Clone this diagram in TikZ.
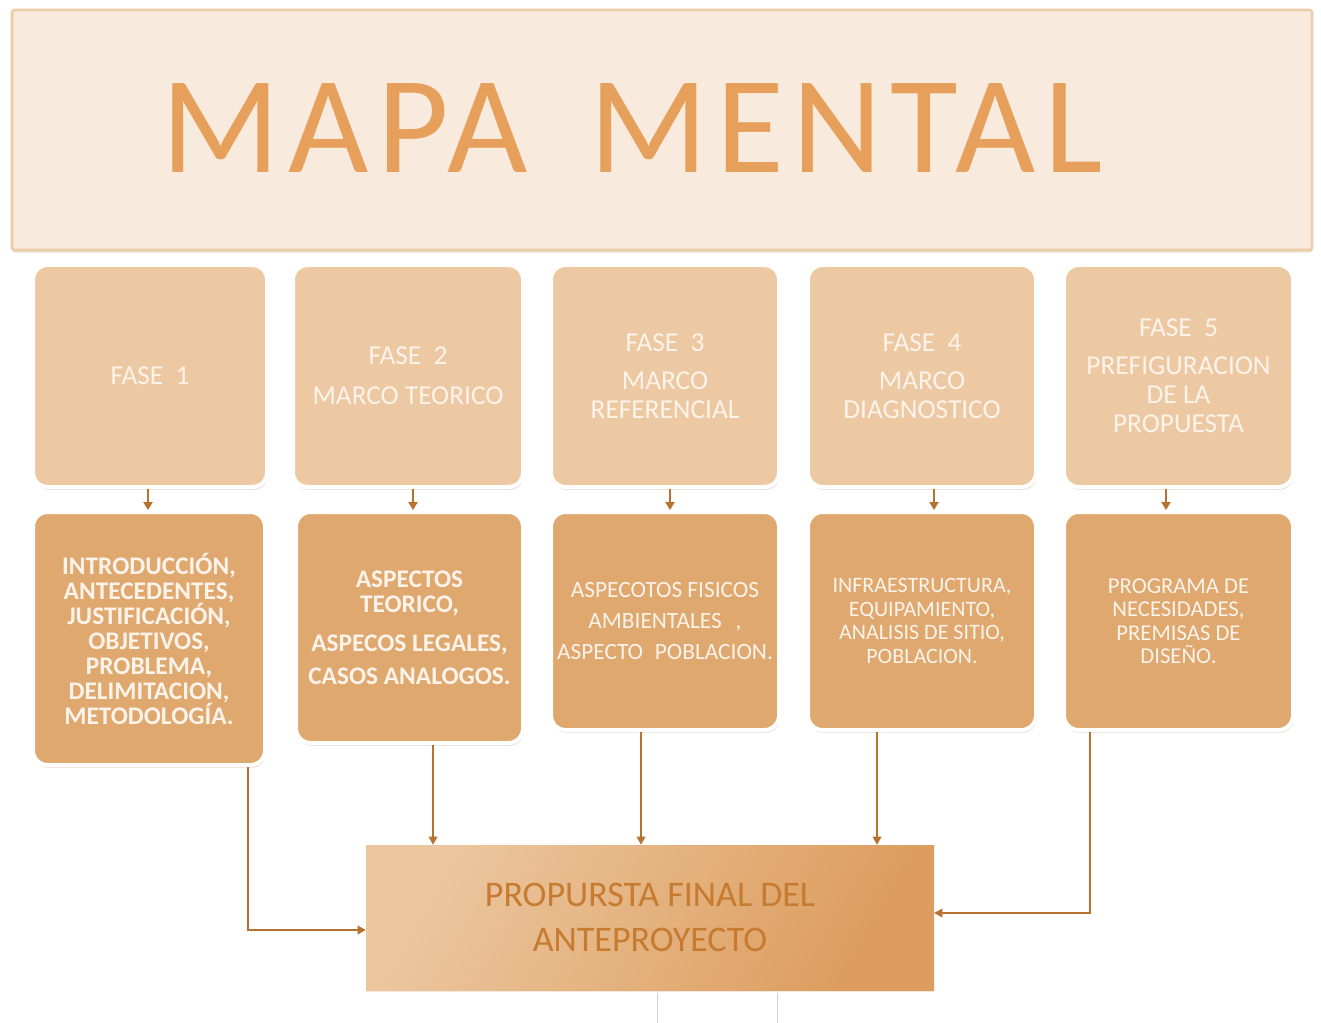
\documentclass[tikz,border=0pt]{standalone}
\usepackage{fontspec}
\setmainfont{Carlito}
\usetikzlibrary{arrows.meta,shadows,calc}
\definecolor{titlefill}{HTML}{F8EADC}
\definecolor{titledraw}{HTML}{ECCDA8}
\definecolor{titletext}{HTML}{E6A05C}
\definecolor{topc}{HTML}{ECC9A2}
\definecolor{botc}{HTML}{DFA86E}
\definecolor{boxtxt}{HTML}{FDF3EA}
\definecolor{shadowc}{HTML}{EFE3D6}
\definecolor{finA}{HTML}{ECC69F}
\definecolor{finB}{HTML}{DC9D5E}
\definecolor{fintxt}{HTML}{C67B30}
\definecolor{connc}{HTML}{B7722F}
\tikzset{
  titlebox/.style={rectangle, rounded corners=2pt, fill=titlefill, draw=titledraw, line width=2pt,
    drop shadow={shadow xshift=0.5pt, shadow yshift=-2pt, fill=shadowc, opacity=1}},
  phasebox/.style={rectangle, rounded corners=11pt, draw=white, line width=3pt, text=boxtxt,
    align=center, inner sep=0pt,
    drop shadow={shadow xshift=0.8pt, shadow yshift=-2.2pt, fill=shadowc, opacity=1}},
  topbox/.style={phasebox, fill=topc, font=\fontsize{20.5}{21.75}\selectfont},
  botbox/.style={phasebox, fill=botc},
  finbox/.style={rectangle, inner sep=0pt, left color=finA, right color=finB, shading angle=60,
    text=fintxt, align=center, font=\fontsize{27}{33.75}\selectfont,
    drop shadow={shadow xshift=0pt, shadow yshift=-1.5pt, fill=shadowc, opacity=0.8}},
  sarrow/.style={draw=connc, line width=1pt, -{Triangle[width=7pt,length=6pt]}},
  conn/.style={draw=connc, line width=0.9pt, -{Triangle[width=6.5pt,length=6pt]}},
}
\begin{document}
\begin{tikzpicture}[x=0.75pt,y=-0.75pt]
\useasboundingbox (0,0) rectangle (1321,1023);
\fill[white] (0,0) rectangle (1321,1023);

% title
\node[titlebox, minimum width=1300*0.75, minimum height=240*0.75] (tb) at (662,130) {};
\node[anchor=base, text=titletext, inner sep=0pt,
  font=\fontsize{104}{110}\selectfont\addfontfeature{LetterSpace=6}] (title) at (632,173) {MAPA\hspace{0.45em}MENTAL};

% top row
\node[topbox, minimum width=234*0.75, minimum height=222*0.75] (t1) at (150,376) {FASE\hspace{0.45em}1};
\node[topbox, minimum width=230*0.75, minimum height=222*0.75] (t2) at (408,376) {FASE\hspace{0.45em}2\\[8pt]MARCO TEORICO};
\node[topbox, minimum width=228*0.75, minimum height=222*0.75] (t3) at (665,376) {FASE\hspace{0.45em}3\\[7pt]MARCO\\REFERENCIAL};
\node[topbox, minimum width=228*0.75, minimum height=222*0.75] (t4) at (922,376) {FASE\hspace{0.45em}4\\[7pt]MARCO\\DIAGNOSTICO};
\node[topbox, minimum width=229*0.75, minimum height=222*0.75] (t5) at (1178.5,376) {FASE\hspace{0.45em}5\\[7pt]PREFIGURACION\\DE LA\\PROPUESTA};

% bottom row
\node[botbox, minimum width=232*0.75, minimum height=253*0.75, font=\bfseries\fontsize{19}{18.75}\selectfont] (b1) at (149,638.5)
  {INTRODUCCIÓN,\\ANTECEDENTES,\\JUSTIFICACIÓN,\\OBJETIVOS,\\PROBLEMA,\\DELIMITACION,\\METODOLOGÍA.};
\node[botbox, minimum width=227*0.75, minimum height=231*0.75, font=\bfseries\fontsize{19}{18.75}\selectfont] (b2) at (409.5,627.5)
  {ASPECTOS\\TEORICO,\\[10.5pt]ASPECOS LEGALES,\\[6pt]CASOS ANALOGOS.};
\node[botbox, minimum width=228*0.75, minimum height=218*0.75, font=\fontsize{17.5}{23.25}\selectfont] (b3) at (665,621)
  {ASPECOTOS FISICOS\\AMBIENTALES\hspace{0.6em},\\ASPECTO\hspace{0.5em}POBLACION.};
\node[botbox, minimum width=228*0.75, minimum height=218*0.75, font=\fontsize{16.5}{17.6}\selectfont] (b4) at (922,621)
  {INFRAESTRUCTURA,\\EQUIPAMIENTO,\\ANALISIS DE SITIO,\\POBLACION.};
\node[botbox, minimum width=229*0.75, minimum height=218*0.75, font=\fontsize{17}{17.6}\selectfont] (b5) at (1178.5,621)
  {PROGRAMA DE\\NECESIDADES,\\PREMISAS DE\\DISEÑO.};

% final
\node[finbox, minimum width=568*0.75, minimum height=145*0.75] (fin) at (650,917.5)
  {PROPURSTA FINAL DEL\\ANTEPROYECTO};

% short arrows
\coordinate (a1) at (148,0);
\coordinate (a2) at (413,0);
\coordinate (a3) at (670,0);
\coordinate (a4) at (934,0);
\coordinate (a5) at (1166,0);
\draw[sarrow] (t1.south -| a1) -- (b1.north -| a1);
\draw[sarrow] (t2.south -| a2) -- (b2.north -| a2);
\draw[sarrow] (t3.south -| a3) -- (b3.north -| a3);
\draw[sarrow] (t4.south -| a4) -- (b4.north -| a4);
\draw[sarrow] (t5.south -| a5) -- (b5.north -| a5);

% connectors to final
\coordinate (c1) at (248,930);
\coordinate (c2) at (433,0);
\coordinate (c3) at (641,0);
\coordinate (c4) at (877,0);
\coordinate (c5) at (1090,913);
\draw[conn] (b1.south -| c1) |- (fin.west |- c1);
\draw[conn] (b2.south -| c2) -- (fin.north -| c2);
\draw[conn] (b3.south -| c3) -- (fin.north -| c3);
\draw[conn] (b4.south -| c4) -- (fin.north -| c4);
\draw[conn] (b5.south -| c5) |- (fin.east |- c5);

% faint marks at the bottom edge
\draw[black!18, line width=0.75pt] (657,993) -- (657,1023);
\draw[black!18, line width=0.75pt] (777,993) -- (777,1023);
\end{tikzpicture}
\end{document}
